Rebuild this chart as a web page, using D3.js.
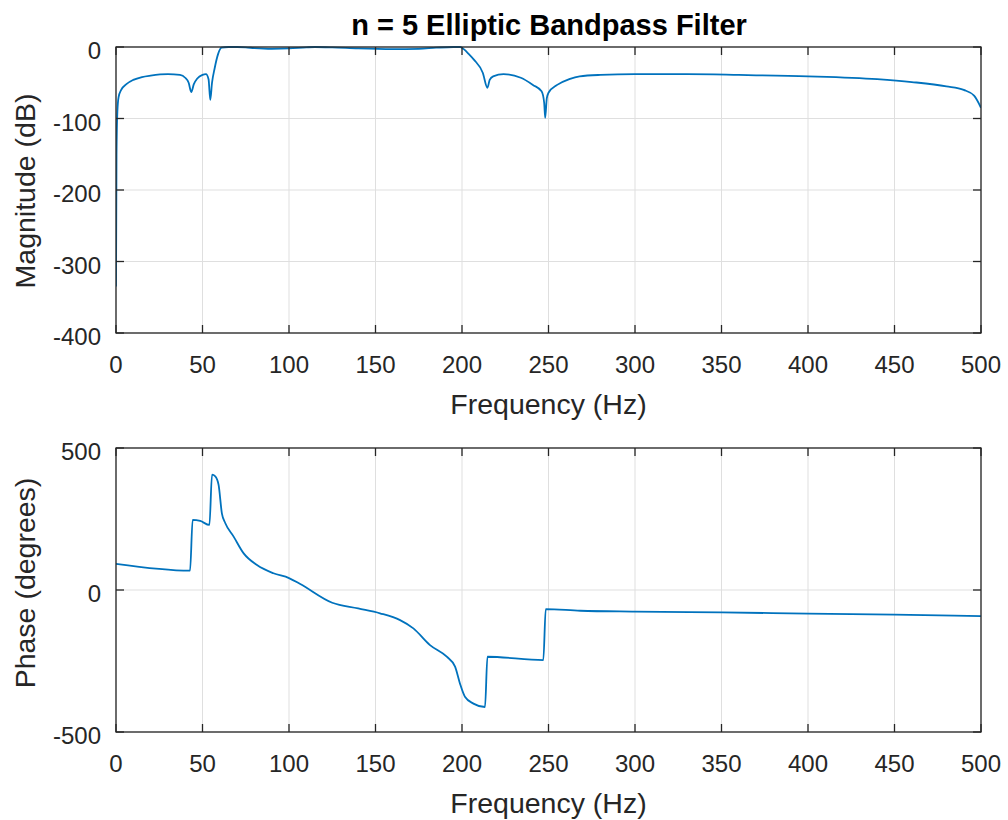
<!DOCTYPE html>
<html><head><meta charset="utf-8">
<script src="https://cdn.jsdelivr.net/npm/d3@7"></script>
<style>body{margin:0;background:#fff;} svg{display:block;font-family:"Liberation Sans",Arial,Helvetica,sans-serif;}</style>
</head><body>
<script>
const title = "n = 5 Elliptic Bandpass Filter";
const xTicks = [0,50,100,150,200,250,300,350,400,450,500];
const magTicks = [0,-100,-200,-300,-400];
const phaseTicks = [500,0,-500];
const magFreq = [0,0.3,0.8,1.5,3,6,10,15,20,30,37,40,42,43.5,45,47,50,52,53.5,54.5,55.5,57,59,61,65,70,75,80,90,100,110,115,125,140,160,175,185,195,199,201,204,207,212,214.7,216,218,224,234,241,246,247.5,248.1,249,250,255,262,268,280,300,330,360,400,440,460,480,490,496,500];
const magDb = [-335,-150,-90,-70,-60,-52,-46,-42,-40,-38,-39,-43,-50,-63,-52,-44,-39,-38,-45,-74,-50,-30,-10,-1,0,0,-0.5,-1.5,-2.5,-2,-0.5,0,-0.5,-2,-3,-2.5,-1,0,0,-3,-10,-18,-36,-57,-46,-41,-38,-43,-53,-62,-78,-99,-72,-64,-53,-45,-41,-39,-38,-38,-39,-41,-45,-49,-55,-60,-68,-85];
const phFreq = [0,42.8,44.3,48.7,54,55.5,57.4,59.3,61.2,63.2,68,73.8,81.5,91,100,106.5,125,140,152.6,164.2,171.9,181.5,191.2,196,198.8,201.7,206.6,213.3,214.7,247,248.4,268.4,300,350,400,450,500];
const phDeg = [92,68,247,243,229,406,400,370,270,235,188,129,88,59,42,21,-45,-65,-82,-106,-135,-194,-235,-270,-329,-376,-400,-412,-235,-247,-67,-73,-76,-79,-83,-87,-92];

const W=1008,H=820;
const svg=d3.select("body").append("svg").attr("width",W).attr("height",H);
const axCol="#262626", gridCol="#dfdfdf", lineCol="#0072BD";
const L=116,R=981;

function panel(top,bottom,yDom,yTicks,ylab,labY,xs,ys){
  const x=d3.scaleLinear().domain([0,500]).range([L,R]);
  const y=d3.scaleLinear().domain(yDom).range([bottom,top]);
  const g=svg.append("g");
  g.selectAll(".gx").data(xTicks).enter().append("line")
    .attr("x1",d=>x(d)).attr("x2",d=>x(d)).attr("y1",top).attr("y2",bottom)
    .attr("stroke",gridCol).attr("stroke-width",1);
  g.selectAll(".gy").data(yTicks).enter().append("line")
    .attr("y1",d=>y(d)).attr("y2",d=>y(d)).attr("x1",L).attr("x2",R)
    .attr("stroke",gridCol).attr("stroke-width",1);
  const pts=xs.map((f,i)=>[f,ys[i]]);
  const clipId="c"+top;
  svg.append("clipPath").attr("id",clipId).append("rect").attr("x",L).attr("y",top-1).attr("width",R-L).attr("height",bottom-top+2);
  g.append("path").datum(pts).attr("clip-path","url(#"+clipId+")")
    .attr("d",d3.line().curve(d3.curveMonotoneX).x(d=>x(d[0])).y(d=>y(d[1])))
    .attr("fill","none").attr("stroke",lineCol).attr("stroke-width",1.8).attr("stroke-linejoin","round");
  g.append("rect").attr("x",L).attr("y",top).attr("width",R-L).attr("height",bottom-top)
    .attr("fill","none").attr("stroke",axCol).attr("stroke-width",1.3);
  const tl=8;
  xTicks.forEach(d=>{
    g.append("line").attr("x1",x(d)).attr("x2",x(d)).attr("y1",bottom).attr("y2",bottom-tl).attr("stroke",axCol).attr("stroke-width",1.3);
    g.append("line").attr("x1",x(d)).attr("x2",x(d)).attr("y1",top).attr("y2",top+tl).attr("stroke",axCol).attr("stroke-width",1.3);
  });
  yTicks.forEach(d=>{
    g.append("line").attr("x1",L).attr("x2",L+tl).attr("y1",y(d)).attr("y2",y(d)).attr("stroke",axCol).attr("stroke-width",1.3);
    g.append("line").attr("x1",R).attr("x2",R-tl).attr("y1",y(d)).attr("y2",y(d)).attr("stroke",axCol).attr("stroke-width",1.3);
  });
  g.selectAll(".xl").data(xTicks).enter().append("text")
    .attr("x",d=>x(d)).attr("y",bottom+40).attr("text-anchor","middle")
    .attr("font-size",24).attr("fill",axCol).text(d=>d);
  g.selectAll(".yl").data(yTicks).enter().append("text")
    .attr("x",101).attr("y",d=>y(d)+12).attr("text-anchor","end")
    .attr("font-size",24).attr("fill",axCol).text(d=>d);
  g.append("text").attr("x",(L+R)/2).attr("y",bottom+81).attr("text-anchor","middle")
    .attr("font-size",28.5).attr("fill",axCol).text("Frequency (Hz)");
  g.append("text").attr("transform",`translate(35,${labY}) rotate(-90)`).attr("text-anchor","middle")
    .attr("font-size",28.5).attr("fill",axCol).text(ylab);
}
panel(47,333,[-400,0],magTicks,"Magnitude (dB)",191,magFreq,magDb);
panel(448,732,[-500,500],phaseTicks,"Phase (degrees)",583,phFreq,phDeg);
svg.append("text").attr("x",549).attr("y",35).attr("text-anchor","middle").attr("font-size",29)
  .attr("font-weight","bold").attr("fill","#000").text(title);
</script>
</body></html>
